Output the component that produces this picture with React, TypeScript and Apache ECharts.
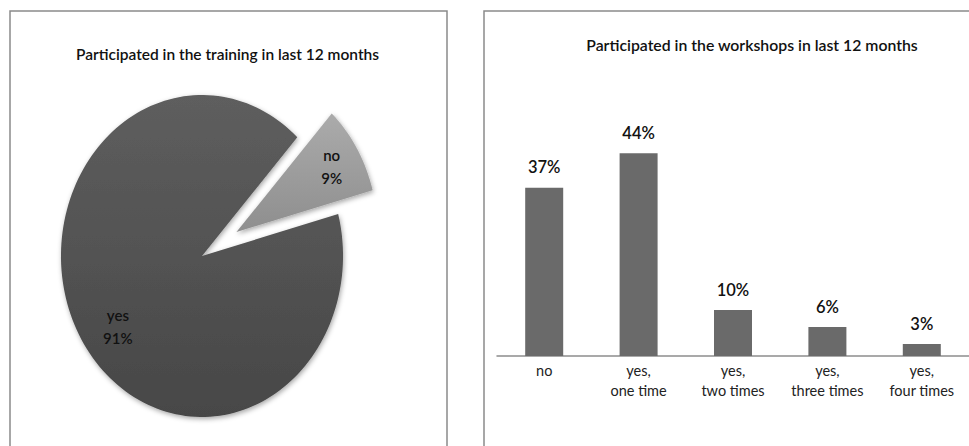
import React, { useEffect, useRef } from "react";
import * as echarts from "echarts";

const leftTitle = "Participated in the training in last 12 months";
const rightTitle = "Participated in the workshops in last 12 months";

const pieCats = ["no", "yes"];
const pieValues = [9, 91];

const barCats = ["no", "yes,\none time", "yes,\ntwo times", "yes,\nthree times", "yes,\nfour times"];
const barValues = [36.6, 44.1, 10.0, 6.3, 2.6];

const FONT = "Lato, 'Open Sans', sans-serif";

export default function App() {
  const ref = useRef<HTMLDivElement>(null);
  useEffect(() => {
    if (!ref.current) return;
    const chart = echarts.init(ref.current, null, { renderer: "svg" });

    const cx = 202;
    const cy = 256;
    const R = 161;
    const sx = 0.876;
    const startDeg = 47.5;
    const total = pieValues.reduce((a, b) => a + b, 0);

    const renderSlice = (params: any, api: any) => {
      const idx = params.dataIndex;
      const v = api.value(0);
      let cum = 0;
      for (let i = 0; i < idx; i++) cum += pieValues[i];
      const a0 = startDeg - (cum / total) * 360;
      const a1 = a0 - (v / total) * 360;
      const midDeg = (a0 + a1) / 2;
      const mid = (midDeg * Math.PI) / 180;
      const e = idx === 0 ? 46 : 0;
      const ox = e * Math.cos(mid);
      const oy = e * Math.sin(mid);
      const toScreen = (px: number, py: number) => [cx + sx * px, cy - py];
      const pts: number[][] = [toScreen(ox, oy)];
      const steps = Math.max(8, Math.ceil(Math.abs(a1 - a0) / 2));
      for (let s = 0; s <= steps; s++) {
        const a = ((a0 + (a1 - a0) * (s / steps)) * Math.PI) / 180;
        pts.push(toScreen(ox + R * Math.cos(a), oy + R * Math.sin(a)));
      }
      const frac = idx === 0 ? 0.79 : 0.74;
      const la = ((midDeg + (idx === 0 ? 0 : 5)) * Math.PI) / 180;
      const lp = toScreen(ox + frac * R * Math.cos(la), oy + frac * R * Math.sin(la));
      const fill =
        idx === 0
          ? new echarts.graphic.LinearGradient(0, 0, 0, 1, [
              { offset: 0, color: "#ababab" },
              { offset: 1, color: "#8e8e8e" },
            ])
          : new echarts.graphic.LinearGradient(0, 0, 0, 1, [
              { offset: 0, color: "#5e5e5e" },
              { offset: 1, color: "#474747" },
            ]);
      return {
        type: "group",
        children: [
          {
            type: "polygon",
            shape: { points: pts },
            style: {
              fill,
              shadowBlur: 5,
              shadowColor: "rgba(0,0,0,0.35)",
              shadowOffsetX: 1,
              shadowOffsetY: 2,
            },
          },
          {
            type: "text",
            style: {
              text: pieCats[idx] + "\n" + Math.round(v) + "%",
              x: lp[0],
              y: lp[1],
              align: "center",
              verticalAlign: "middle",
              fontSize: 15,
              lineHeight: 23,
              fontFamily: FONT,
              fontWeight: 600,
              fill: "#111",
            },
          },
        ],
      };
    };

    chart.setOption({
      animation: false,
      backgroundColor: "#ffffff",
      title: [
        {
          text: leftTitle,
          left: 227.5,
          top: 46,
          textAlign: "center",
          padding: 0,
          textStyle: { fontFamily: FONT, fontSize: 15.5, fontWeight: 600, color: "#111" },
        },
        {
          text: rightTitle,
          left: 752,
          top: 36,
          textAlign: "center",
          padding: 0,
          textStyle: { fontFamily: FONT, fontSize: 15.8, fontWeight: 600, color: "#111" },
        },
      ],
      graphic: [
        {
          type: "rect",
          shape: { x: 10, y: 11, width: 437, height: 460 },
          style: { fill: "none", stroke: "#8a8a8a", lineWidth: 1.5 },
          z: 0,
        },
        {
          type: "rect",
          shape: { x: 484, y: 11, width: 600, height: 460 },
          style: { fill: "none", stroke: "#8a8a8a", lineWidth: 1.5 },
          z: 0,
        },
      ],
      grid: { left: 497, top: 126, width: 473.5, height: 230 },
      xAxis: {
        type: "category",
        data: barCats,
        axisLine: { lineStyle: { color: "#8c8c8c", width: 1.5 } },
        axisTick: { show: false },
        axisLabel: {
          interval: 0,
          margin: 4,
          fontSize: 14.5,
          lineHeight: 20,
          color: "#222",
          fontFamily: FONT,
        },
      },
      yAxis: { type: "value", min: 0, max: 50, show: false, splitLine: { show: false } },
      series: [
        {
          type: "custom",
          coordinateSystem: "none",
          data: pieValues.map((v, i) => ({ name: pieCats[i], value: [v] })),
          renderItem: renderSlice,
          silent: true,
        },
        {
          type: "bar",
          data: barValues,
          barWidth: 38,
          itemStyle: { color: "#6a6a6a" },
          label: {
            show: true,
            position: "top",
            distance: 12,
            formatter: (p: any) => Math.round(p.value) + "%",
            fontSize: 16.5,
            fontWeight: 600,
            fontFamily: FONT,
            color: "#111",
          },
        },
      ],
    });
    return () => chart.dispose();
  }, []);
  return (
    <div
      ref={ref}
      style={{ position: "absolute", left: 0, top: 0, width: 969, height: 446 }}
    />
  );
}
